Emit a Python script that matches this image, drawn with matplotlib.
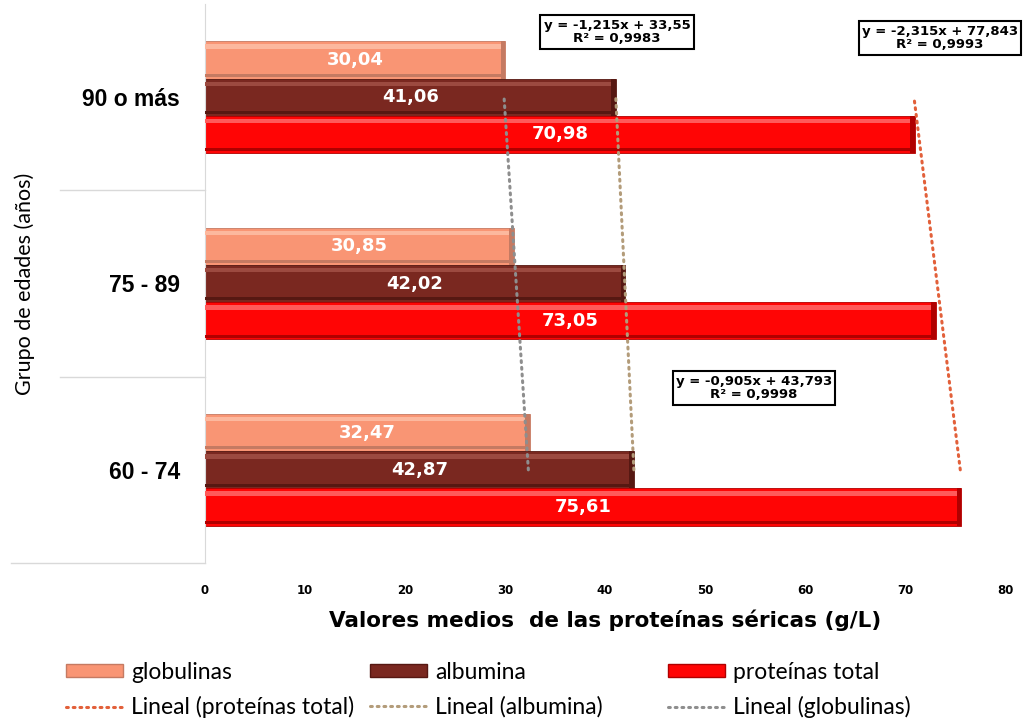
import matplotlib.pyplot as plt
import numpy as np
from matplotlib.lines import Line2D
from matplotlib.patches import Patch
from matplotlib.transforms import blended_transform_factory

# data
grupos = ["60 - 74", "75 - 89", "90 o más"]
globulinas = [32.47, 30.85, 30.04]
albumina = [42.87, 42.02, 41.06]
proteinas_total = [75.61, 73.05, 70.98]

# Excel trend lines (x = 1, 2, 3)
tendencias = {
    "globulinas": (-1.215, 33.55, "0,9983"),
    "albumina": (-0.905, 43.793, "0,9998"),
    "proteinas": (-2.315, 77.843, "0,9993"),
}
xticks = [0, 10, 20, 30, 40, 50, 60, 70, 80]

narrow = ["Lato", "DejaVu Sans"]

fig = plt.figure(figsize=(10.23, 7.19), dpi=100)
ax = fig.add_axes([205 / 1023, 1 - 563 / 719, 800 / 1023, 559 / 719])

pos = np.arange(len(grupos))
h = 0.2


def bevel_bars(y, vals, color, light, dark):
    vals = np.array(vals)
    ax.barh(y, vals, h, color=color, edgecolor=dark, linewidth=0.6, zorder=2)
    ax.barh(y + h * 0.36, vals, h * 0.12, color=light, linewidth=0, zorder=3)
    ax.barh(y - h * 0.41, vals, h * 0.08, color=dark, linewidth=0, zorder=3)
    ax.barh(y, np.full(len(vals), 0.45), h, left=vals - 0.45, color=dark,
            linewidth=0, zorder=3)


bevel_bars(pos + h, globulinas, "#F99574", "#FCB89E", "#C57A62")
bevel_bars(pos, albumina, "#7A2820", "#9C4A40", "#561812")
bevel_bars(pos - h, proteinas_total, "#FF0505", "#FF5A5A", "#B00000")

for y, vals in [(pos + h, globulinas), (pos, albumina), (pos - h, proteinas_total)]:
    for yy, v in zip(y, vals):
        ax.text(v / 2, yy, f"{v:.2f}".replace(".", ","), ha="center", va="center",
                color="white", fontsize=13, fontweight="bold", zorder=5)

# trend lines
colores_t = {"globulinas": "#8E8E8E", "albumina": "#B39C7A", "proteinas": "#E2603A"}
xs = np.arange(1, 4)
for key, (m, b, r2) in tendencias.items():
    ax.plot(m * xs + b, pos, linestyle=(0, (0.6, 1.6)), linewidth=2.2,
            color=colores_t[key], dash_capstyle="round", zorder=4)

ax.set_xlim(0, 80)
ax.set_ylim(-0.5, 2.5)
ax.set_xticks(xticks)
ax.set_xticklabels([str(t) for t in xticks], fontsize=8.5, fontweight="bold")
ax.tick_params(axis="x", length=0, pad=15)
ax.set_yticks(pos)
ax.set_yticklabels(grupos, fontsize=16.5, fontweight="bold", family="Liberation Sans")
ax.tick_params(axis="y", length=0, pad=18)
for s in ["top", "right", "bottom"]:
    ax.spines[s].set_visible(False)
ax.spines["left"].set_color("#D9D9D9")

# category separators
tr = blended_transform_factory(fig.transFigure, ax.transData)
for yy in [0.5, 1.5]:
    ax.add_line(Line2D([60 / 1023, 205 / 1023], [yy, yy], transform=tr,
                       color="#D9D9D9", linewidth=1, clip_on=False))
ax.add_line(Line2D([11 / 1023, 205 / 1023], [-0.5, -0.5], transform=tr,
                   color="#D9D9D9", linewidth=1, clip_on=False))

fig.text(25 / 1023, 1 - 284 / 719, "Grupo de edades (años)", rotation=90,
         ha="center", va="center", fontsize=15.5, family=narrow)
fig.text(605 / 1023, 1 - 620 / 719, "Valores medios  de las proteínas séricas (g/L)",
         ha="center", va="center", fontsize=15.5, fontweight="bold")

# equation boxes
cajas = {"globulinas": (617, 32), "proteinas": (940, 38), "albumina": (754, 388)}
for key, (px, py) in cajas.items():
    m, b, r2 = tendencias[key]
    txt = f"y = {m:g}x + {b:g}".replace(".", ",") + f"\nR² = {r2}"
    fig.text(px / 1023, 1 - py / 719, txt, ha="center", va="center",
             multialignment="center", fontsize=9.5, fontweight="bold",
             linespacing=1.05,
             bbox=dict(boxstyle="square,pad=0.25", fc="white", ec="black", lw=1.5))

# legend, three columns
lin = dict(linestyle=(0, (0.6, 1.6)), lw=2.2, dash_capstyle="round")
cols = [
    [Patch(facecolor="#F99574", edgecolor="#C57A62", label="globulinas"),
     Line2D([], [], color=colores_t["proteinas"], label="Lineal (proteínas total)", **lin)],
    [Patch(facecolor="#7A2820", edgecolor="#561812", label="albumina"),
     Line2D([], [], color=colores_t["albumina"], label="Lineal (albumina)", **lin)],
    [Patch(facecolor="#FF0505", edgecolor="#B00000", label="proteínas total"),
     Line2D([], [], color=colores_t["globulinas"], label="Lineal (globulinas)", **lin)],
]
for x0, handles in zip([66, 370, 668], cols):
    fig.legend(handles=handles, loc="upper left", bbox_to_anchor=(x0 / 1023, 1 - 662 / 719),
               frameon=False, borderpad=0, borderaxespad=0,
               handlelength=2.5, handleheight=0.5, handletextpad=0.35,
               labelspacing=0.58, prop={"family": narrow, "size": 16.5})

fig.savefig("out.png", dpi=100)
